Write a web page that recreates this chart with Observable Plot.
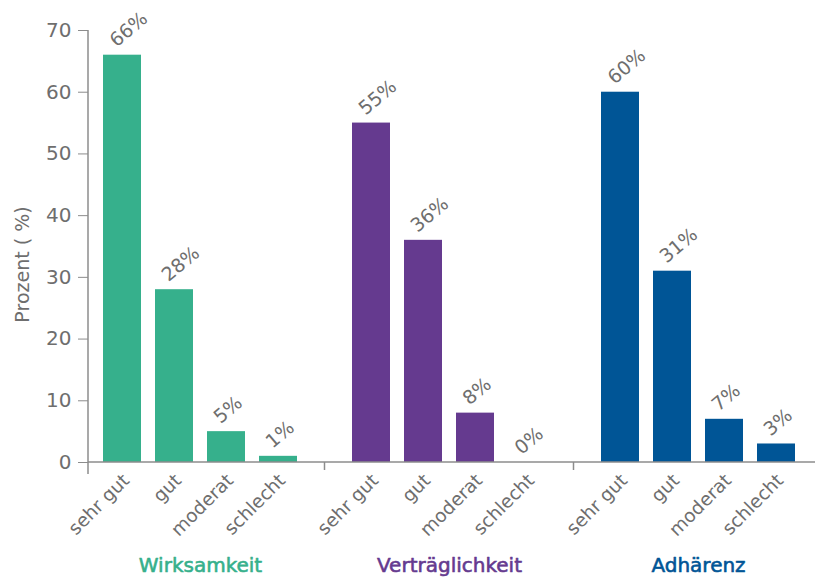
<!DOCTYPE html>
<html>
<head>
<meta charset="utf-8">
<script src="https://cdn.jsdelivr.net/npm/d3@7"></script>
<script src="https://cdn.jsdelivr.net/npm/@observablehq/plot@0.6"></script>
<style>
  html, body { margin: 0; padding: 0; background: #fff; }
  #chart svg { display: block; }
</style>
</head>
<body>
<div id="chart"></div>
<script>
// Bewertung je Kategorie, Anteil in Prozent
const groups = ["Wirksamkeit", "Verträglichkeit", "Adhärenz"];
const ratings = ["sehr gut", "gut", "moderat", "schlecht"];
const wirksamkeit = [66, 28, 5, 1];
const vertraeglichkeit = [55, 36, 8, 0];
const adhaerenz = [60, 31, 7, 3];
const groupColors = ["#36b08c", "#653a8f", "#005596"];
const yTicks = [0, 10, 20, 30, 40, 50, 60, 70];

const series = [wirksamkeit, vertraeglichkeit, adhaerenz];
const rows = groups.flatMap((g, gi) =>
  ratings.map((r, ri) => ({group: g, rating: r, value: series[gi][ri]}))
);

const textGray = "#6e6e6e";
const axisGray = "#8c8c8c";
const font = "'DejaVu Sans', sans-serif";

const plot = Plot.plot({
  width: 815,
  height: 583,
  marginLeft: 88,
  marginRight: 4,
  marginTop: 30,
  marginBottom: 121,
  style: {fontFamily: font, fontSize: "18px", color: textGray, background: "#fff"},
  fx: {domain: groups, paddingInner: 0.1, paddingOuter: 0, axis: null, label: null},
  x: {domain: ratings, padding: 0.276, axis: null},
  y: {domain: [0, 70], axis: null},
  color: {domain: groups, range: groupColors},
  marks: [
    Plot.barY(rows, {fx: "group", x: "rating", y: "value", fill: "group"}),
    // Prozentwerte über den Balken
    Plot.text(rows, {
      fx: "group", x: "rating", y: "value",
      text: d => `${d.value}%`,
      rotate: -40, textAnchor: "start",
      dx: -10, dy: -12,
      fill: textGray, fontSize: 19
    }),
    // Bewertungsstufen unter der Achse
    Plot.text(rows, {
      fx: "group", x: "rating",
      text: "rating",
      frameAnchor: "bottom",
      rotate: -45, textAnchor: "end",
      dx: 8, dy: 19,
      fill: textGray, fontSize: 18.5
    }),
    // Kategorientitel
    Plot.text(groups, {
      fx: d => d, text: d => d, fill: d => d, stroke: d => d, strokeWidth: 0.6,
      frameAnchor: "bottom", dy: 109,
      fontSize: 20
    }),
    Plot.axisY({
      ticks: yTicks, tickSize: 10, tickPadding: 7,
      fontSize: 20, stroke: axisGray, fill: textGray,
      label: null
    }),
    Plot.text(["Prozent ( %)"], {
      fx: () => groups[0],
      frameAnchor: "left", textAnchor: "middle",
      rotate: -90, dx: -66, dy: 18,
      text: d => d, fill: textGray, fontSize: 19
    })
  ]
});

document.getElementById("chart").appendChild(plot);

// Achsenlinien über alle Gruppen hinweg
const svg = d3.select(plot);
const y = plot.scale("y");
const fx = plot.scale("fx");
const y0 = y.apply(0);
const yTop = y.apply(70);
const left = 88;
const right = 815;
const lines = svg.append("g").attr("stroke", axisGray).attr("stroke-width", 1.5);
lines.append("line").attr("x1", left).attr("x2", right).attr("y1", y0).attr("y2", y0);
lines.append("line").attr("x1", left).attr("x2", left).attr("y1", yTop).attr("y2", y0 + 12);
groups.slice(1).forEach(g => {
  const xs = fx.apply(g) - (fx.step - fx.bandwidth) / 2;
  lines.append("line").attr("x1", xs).attr("x2", xs).attr("y1", y0).attr("y2", y0 + 8);
});
</script>
</body>
</html>
